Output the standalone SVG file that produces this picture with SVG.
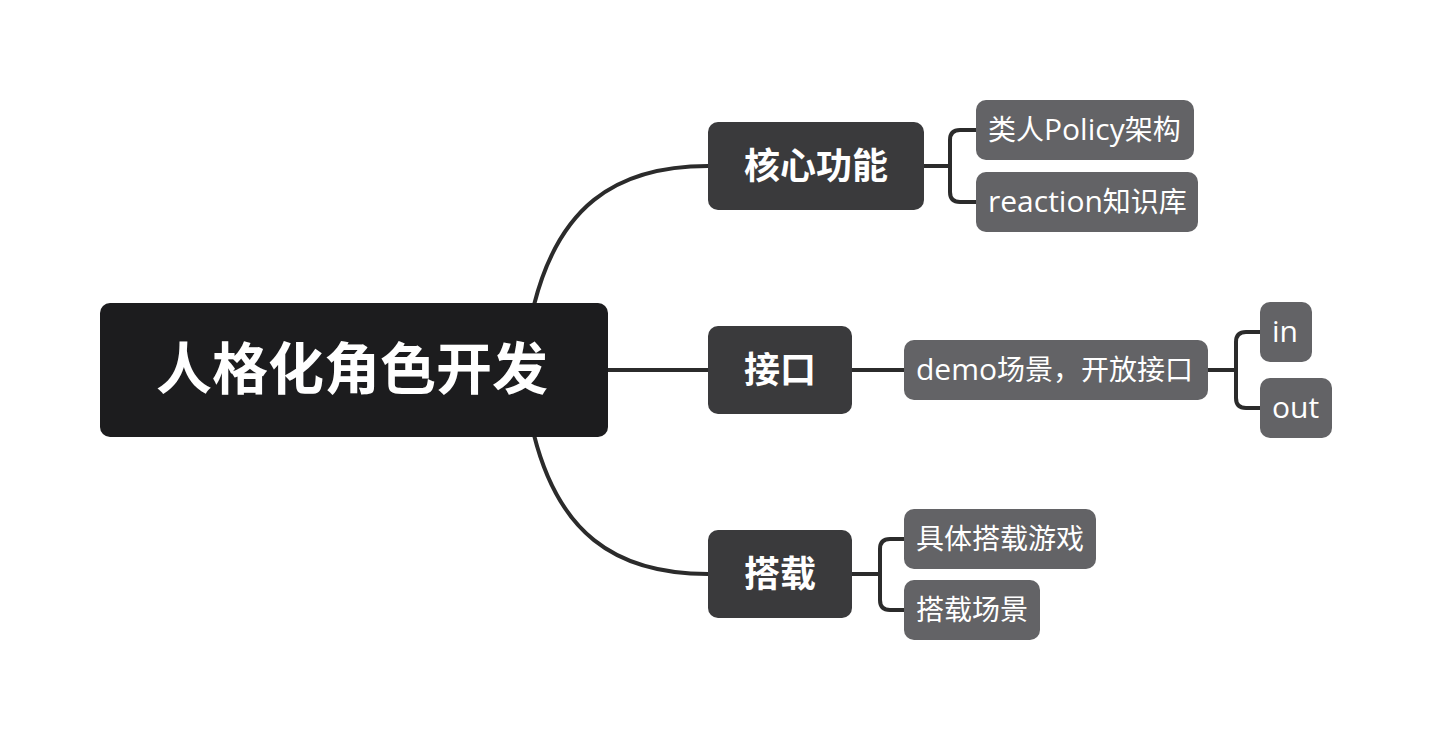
<svg xmlns="http://www.w3.org/2000/svg" width="1432" height="740" viewBox="0 0 1432 740">
<style>
.conn{fill:none;stroke:#2b2b2b;stroke-width:4;stroke-linecap:round}
.root rect{fill:#1c1c1e}
.main rect{fill:#3a3a3c}
.sub rect{fill:#636366}
text{fill:#ffffff;font-family:"Open Sans","Noto Sans CJK SC",sans-serif}
.root text{font-size:56px;font-weight:bold;text-anchor:middle}
.main text{font-size:36px;font-weight:bold;text-anchor:middle}
.sub text{font-size:28px}
.sub tspan.l{font-size:30px}
</style>
<rect width="1432" height="740" fill="#ffffff"/>
<g id="connectors">
<path class="conn" d="M 534 305 C 558 210 612 166 708 166"/>
<path class="conn" d="M 534 435 C 558 530 612 574 708 574"/>
<path class="conn" d="M 608 370 H 708"/>
<path class="conn" d="M 924 166 H 950"/>
<path class="conn" d="M 976 130 H 960 Q 950 130 950 140 V 192 Q 950 202 960 202 H 976"/>
<path class="conn" d="M 852 370 H 904"/>
<path class="conn" d="M 1208 370 H 1236"/>
<path class="conn" d="M 1260 332 H 1246 Q 1236 332 1236 342 V 398 Q 1236 408 1246 408 H 1260"/>
<path class="conn" d="M 852 574 H 880"/>
<path class="conn" d="M 904 539 H 890 Q 880 539 880 549 V 600 Q 880 610 890 610 H 904"/>
</g>
<g id="root" class="root"><rect x="100" y="303" width="508" height="134" rx="10"/><text x="352" y="389">人格化角色开发</text></g>
<g id="core" class="main"><rect x="708" y="122" width="216" height="88" rx="10"/><text x="816" y="179">核心功能</text></g>
<g id="iface" class="main"><rect x="708" y="326" width="144" height="88" rx="10"/><text x="780" y="383">接口</text></g>
<g id="carry" class="main"><rect x="708" y="530" width="144" height="88" rx="10"/><text x="780" y="587">搭载</text></g>
<g id="policy" class="sub"><rect x="976" y="100" width="218" height="60" rx="10"/><text x="988" y="140">类人<tspan class="l">Policy</tspan>架构</text></g>
<g id="reaction" class="sub"><rect x="976" y="172" width="222" height="60" rx="10"/><text x="988" y="212"><tspan class="l">reaction</tspan>知识库</text></g>
<g id="demo" class="sub"><rect x="904" y="340" width="304" height="60" rx="10"/><text x="916" y="380"><tspan class="l">demo</tspan>场景，开放接口</text></g>
<g id="in" class="sub"><rect x="1260" y="302" width="52" height="60" rx="10"/><text x="1272" y="342"><tspan class="l">in</tspan></text></g>
<g id="out" class="sub"><rect x="1260" y="378" width="72" height="60" rx="10"/><text x="1272" y="418"><tspan class="l">out</tspan></text></g>
<g id="game" class="sub"><rect x="904" y="509" width="192" height="60" rx="10"/><text x="916" y="549">具体搭载游戏</text></g>
<g id="scene" class="sub"><rect x="904" y="580" width="136" height="60" rx="10"/><text x="916" y="620">搭载场景</text></g>
</svg>
